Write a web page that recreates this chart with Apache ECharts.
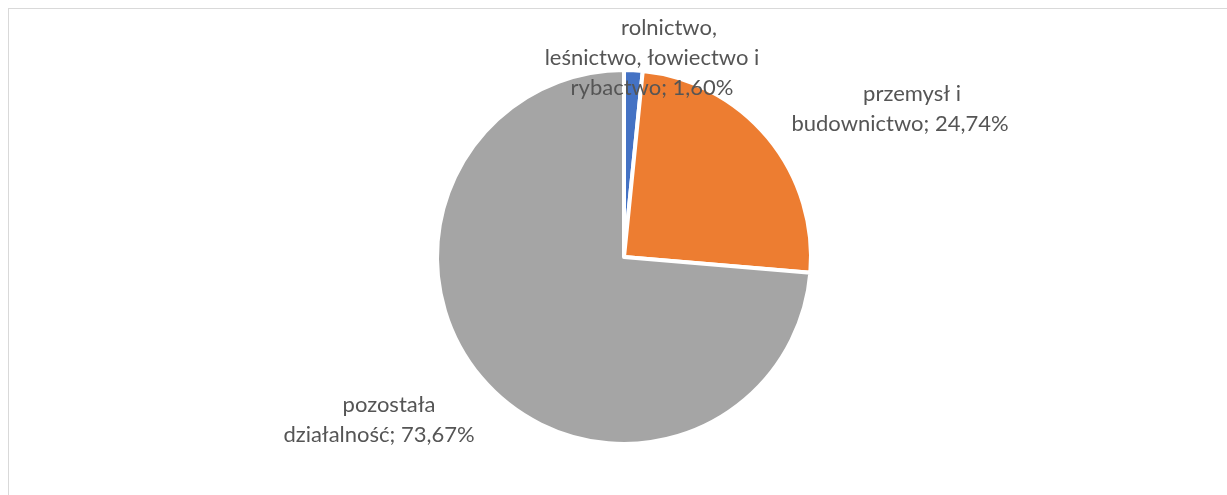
<!DOCTYPE html>
<html>
<head>
<meta charset="utf-8">
<script src="https://cdn.jsdelivr.net/npm/echarts@6/dist/echarts.min.js"></script>
<style>
html,body{margin:0;padding:0;background:#fff;}
#frame{position:absolute;left:8px;top:8px;width:1219px;height:487px;border-left:1.5px solid #d9d9d9;border-top:1.5px solid #d9d9d9;box-sizing:border-box;}
#chart{position:absolute;left:0;top:0;width:1227px;height:495px;}
</style>
</head>
<body>
<div id="frame"></div>
<div id="chart"></div>
<script>
const categories = ['rolnictwo,\nleśnictwo, łowiectwo i\nrybactwo', 'przemysł i\nbudownictwo', 'pozostała\ndziałalność'];
const values = [1.60, 24.74, 73.67];
const colors = ['#4472C4', '#ED7D31', '#A5A5A5'];
const labelPositions = [[652, 58], [900, 109], [379, 420]];
const firstLineShift = [17, 12, 10];

const txt = { fontFamily: 'Lato', fontSize: 22, lineHeight: 30, color: '#555555' };
const chart = echarts.init(document.getElementById('chart'));
chart.setOption({
  animation: false,
  series: [{
    type: 'pie',
    center: [624, 257],
    radius: 187,
    startAngle: 90,
    clockwise: true,
    data: categories.map((c, i) => ({
      name: c, value: values[i], itemStyle: { color: colors[i] },
      label: { rich: { f: Object.assign({ padding: [0, 0, 0, firstLineShift[i] * 2] }, txt), r: txt } }
    })),
    itemStyle: { borderColor: '#fff', borderWidth: 4 },
    label: {
      show: true,
      formatter: p => {
        const lines = (p.name + '; ' + p.value.toFixed(2).replace('.', ',') + '%').split('\n');
        return lines.map((l, k) => (k === 0 ? '{f|' : '{r|') + l + '}').join('\n');
      },
      fontFamily: 'Lato',
      fontSize: 22,
      lineHeight: 30,
      color: '#555555',
      align: 'center'
    },
    labelLine: { show: false },
    labelLayout: p => ({
      x: labelPositions[p.dataIndex][0],
      y: labelPositions[p.dataIndex][1],
      align: 'center',
      verticalAlign: 'middle'
    })
  }]
});
</script>
</body>
</html>
